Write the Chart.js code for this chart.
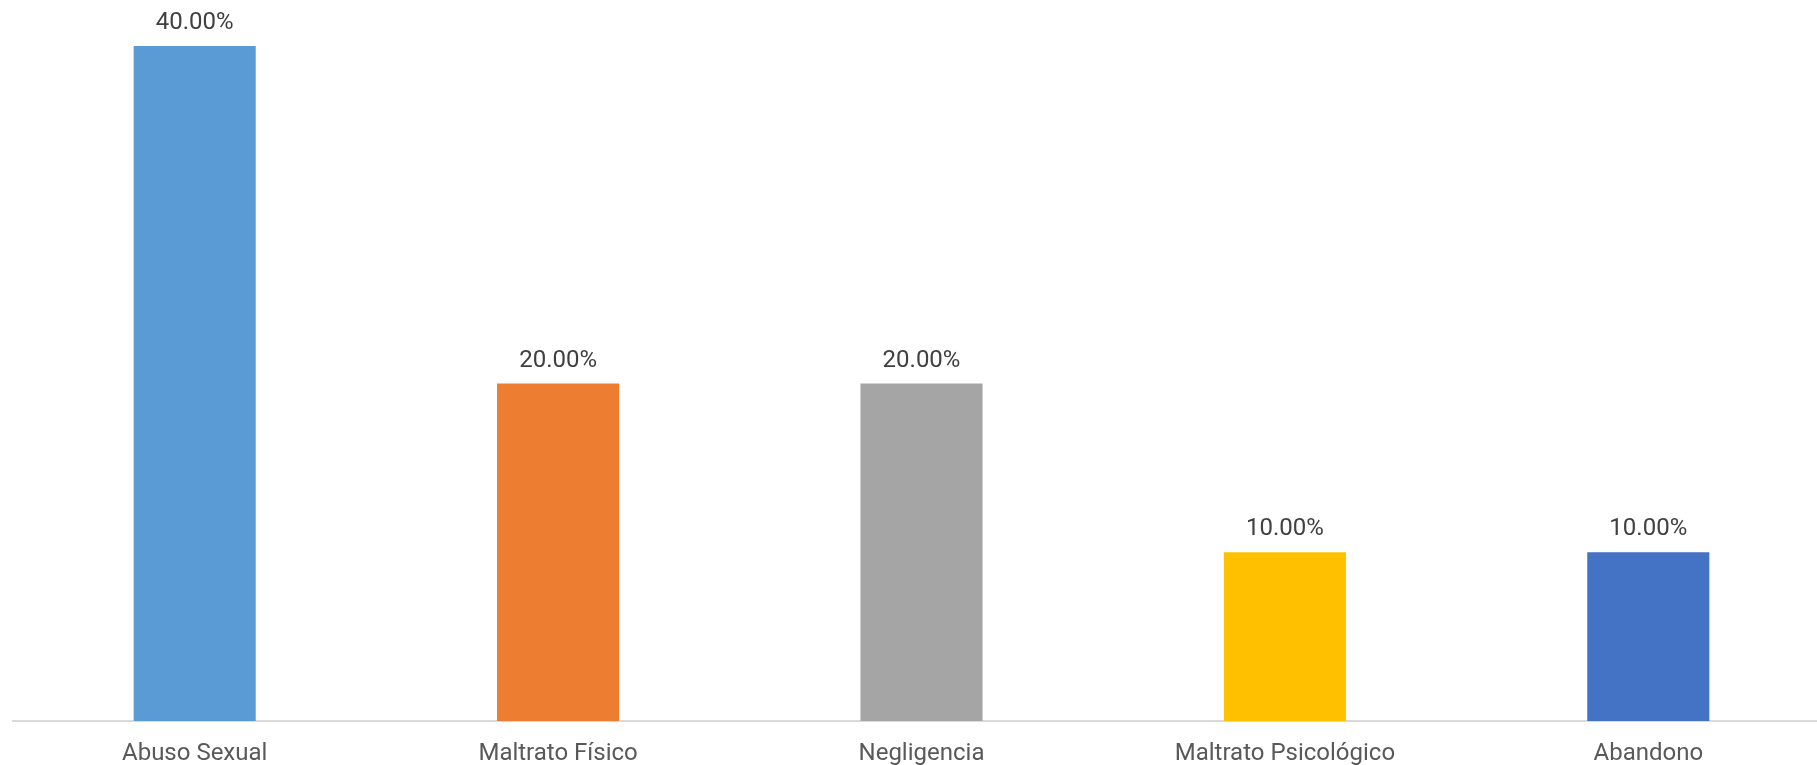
<!DOCTYPE html>
<html>
<head>
<meta charset="utf-8">
<script src="https://cdn.jsdelivr.net/npm/chart.js@4"></script>
<style>
  html, body { margin: 0; padding: 0; background: #fff; overflow: hidden; }
  #wrap { width: 1830px; height: 787px; }
</style>
</head>
<body>
<div id="wrap"><canvas id="myChart"></canvas></div>
<script>
const categories = ["Abuso Sexual", "Maltrato Físico", "Negligencia", "Maltrato Psicológico", "Abandono"];
const values = [40, 20, 20, 10, 10];
const barColors = ["#5B9BD5", "#ED7D31", "#A5A5A5", "#FFC000", "#4472C4"];

// draws the "40.00%" labels above each bar
const valueLabels = {
  id: "valueLabels",
  afterDatasetsDraw(chart) {
    const ctx = chart.ctx;
    const meta = chart.getDatasetMeta(0);
    ctx.save();
    ctx.font = "24px Roboto";
    ctx.fillStyle = "#404040";
    ctx.textAlign = "center";
    ctx.textBaseline = "alphabetic";
    meta.data.forEach((bar, i) => {
      ctx.fillText(values[i].toFixed(2) + "%", bar.x, bar.y - 17);
    });
    ctx.restore();
  }
};

const ctx = document.getElementById("myChart").getContext("2d");
new Chart(ctx, {
  type: "bar",
  data: {
    labels: categories,
    datasets: [{
      label: "",
      data: values,
      backgroundColor: barColors,
      borderWidth: 0,
      categoryPercentage: 1,
      barPercentage: 0.336
    }]
  },
  options: {
    responsive: true,
    maintainAspectRatio: false,
    animation: false,
    layout: { padding: { top: 46, left: 13, right: 0, bottom: 0 } },
    plugins: {
      legend: { display: false },
      tooltip: { enabled: false }
    },
    scales: {
      x: {
        grid: { display: false, drawTicks: false },
        border: { display: true, color: "#D9D9D9", width: 2 },
        ticks: {
          color: "#595959",
          font: { family: "Roboto", size: 24, lineHeight: 1 },
          padding: 21,
          maxRotation: 0,
          autoSkip: false
        }
      },
      y: {
        display: false,
        min: 0,
        max: 40
      }
    }
  },
  plugins: [valueLabels]
});
</script>
</body>
</html>
